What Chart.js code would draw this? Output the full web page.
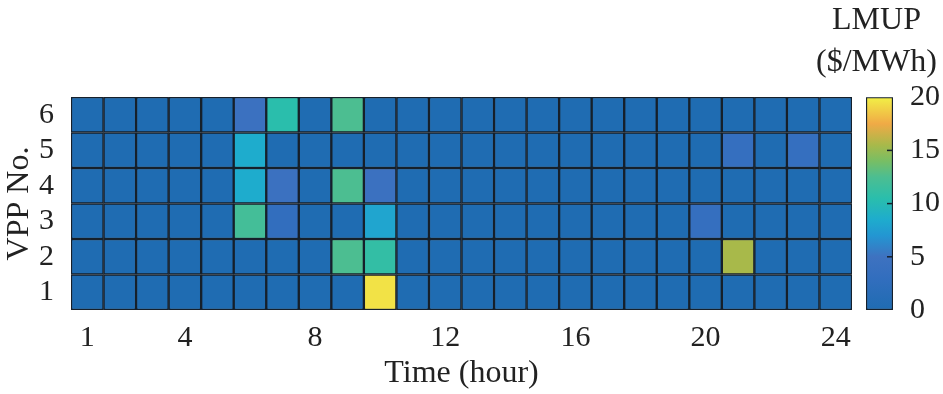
<!DOCTYPE html>
<html>
<head>
<meta charset="utf-8">
<script src="https://cdn.jsdelivr.net/npm/chart.js@4.4.1/dist/chart.umd.min.js"></script>
<style>
  body { margin: 0; background: #fff; }
  #main { position: absolute; left: 0; top: 0; }
  #barra { position: absolute; left: 810px; top: 0; }
</style>
</head>
<body>
<canvas id="main" width="860" height="394"></canvas>
<canvas id="barra" width="133" height="394"></canvas>
<script>
const horas = ['1','2','3','4','5','6','7','8','9','10','11','12','13','14','15','16','17','18','19','20','21','22','23','24'];
const horasVisibles = ['1','4','8','12','16','20','24'];
const vpps = [1, 2, 3, 4, 5, 6];

// LMUP ($/MWh) por VPP, hora 1..24
const lmupVpp1 = [0,0,0,0,0,0,0,0,0,19.5,0,0,0,0,0,0,0,0,0,0,0,0,0,0];
const lmupVpp2 = [0,0,0,0,0,0,0,0,12.5,11,0,0,0,0,0,0,0,0,0,0,15.5,0,0,0];
const lmupVpp3 = [0,0,0,0,0,12,3,0,0,8,0,0,0,0,0,0,0,0,0,3.5,0,0,0,0];
const lmupVpp4 = [0,0,0,0,0,8.5,4.5,0,12.5,4.5,0,0,0,0,0,0,0,0,0,0,0,0,0,0];
const lmupVpp5 = [0,0,0,0,0,8.5,0,0,0,0,0,0,0,0,0,0,0,0,0,0,3.5,0,3.5,0];
const lmupVpp6 = [0,0,0,0,0,4.5,10.5,0,12.5,0,0,0,0,0,0,0,0,0,0,0,0,0,0,0];
const filas = [lmupVpp1, lmupVpp2, lmupVpp3, lmupVpp4, lmupVpp5, lmupVpp6];

const escalaMin = 0;
const escalaMax = 20;
const escalaTicks = [0, 5, 10, 15, 20];

// mapa de colores tipo parula (recortado)
const paradas = [
    [0, [31,108,178]],
    [3, [50,110,190]],
    [5, [62,114,192]],
    [7, [35,150,210]],
    [8.5, [30,172,205]],
    [10.5, [42,190,172]],
    [12.5, [76,190,145]],
    [14, [120,190,100]],
    [15.5, [168,185,74]],
    [17.5, [240,170,70]],
    [20, [242,240,70]]
];

function colorDe(v) {
    if (v <= paradas[0][0]) return rgb(paradas[0][1]);
    for (let i = 1; i < paradas.length; i++) {
        if (v <= paradas[i][0]) {
            const [a, ca] = paradas[i - 1];
            const [b, cb] = paradas[i];
            const t = (v - a) / (b - a);
            return rgb(ca.map((c, k) => c + (cb[k] - c) * t));
        }
    }
    return rgb(paradas[paradas.length - 1][1]);
}

function rgb(c) {
    return `rgb(${Math.round(c[0])},${Math.round(c[1])},${Math.round(c[2])})`;
}

const fuenteTicks = { family: 'Liberation Serif', size: 30 };
const fuenteTitulo = { family: 'Liberation Serif', size: 32 };
const colorTexto = '#222';
const colorBorde = '#16202b';

window.onload = function () {
    const datasets = filas.map((valores, i) => ({
        label: 'VPP ' + vpps[i],
        data: valores.map(() => [vpps[i] - 0.5, vpps[i] + 0.5]),
        backgroundColor: valores.map(v => colorDe(v)),
        borderColor: colorBorde,
        borderWidth: 1.5,
        borderSkipped: false,
        barPercentage: 1,
        categoryPercentage: 1
    }));

    new Chart(document.getElementById('main').getContext('2d'), {
        type: 'bar',
        data: { labels: horas, datasets: datasets },
        options: {
            responsive: false,
            animation: false,
            layout: { padding: { top: 97, right: 8, left: 0, bottom: 0 } },
            plugins: { legend: { display: false }, tooltip: { enabled: false } },
            scales: {
                x: {
                    stacked: true,
                    grid: { display: false },
                    border: { display: false },
                    ticks: {
                        color: colorTexto,
                        font: fuenteTicks,
                        padding: 2,
                        maxRotation: 0,
                        autoSkip: false,
                        callback: function (val) {
                            const l = this.getLabelForValue(val);
                            return horasVisibles.includes(l) ? l : '';
                        }
                    },
                    title: { display: true, text: 'Time (hour)', color: colorTexto, font: fuenteTitulo, padding: { top: 0, bottom: 1 } },
                    afterFit: s => { s.height = 84; }
                },
                y: {
                    min: 0.5,
                    max: 6.5,
                    grid: { display: false },
                    border: { display: false },
                    afterBuildTicks: s => { s.ticks = vpps.map(v => ({ value: v })); },
                    ticks: { color: colorTexto, font: fuenteTicks, padding: 9 },
                    title: { display: true, text: 'VPP No.', color: colorTexto, font: fuenteTitulo, padding: { top: 0, bottom: 0 } },
                    afterFit: s => { s.width = 71; }
                }
            }
        }
    });

    const marcas = {
        id: 'marcas',
        afterDatasetsDraw(chart) {
            const c = chart.ctx;
            const area = chart.chartArea;
            const y = chart.scales.y;
            c.save();
            c.strokeStyle = colorBorde;
            c.lineWidth = 1.5;
            escalaTicks.slice(1, -1).forEach(v => {
                const py = y.getPixelForValue(v);
                c.beginPath();
                c.moveTo(area.right - 6, py);
                c.lineTo(area.right, py);
                c.stroke();
            });
            c.restore();
        }
    };

    new Chart(document.getElementById('barra').getContext('2d'), {
        type: 'bar',
        data: {
            labels: ['LMUP'],
            datasets: [{
                data: [[escalaMin, escalaMax]],
                backgroundColor: function (ctx) {
                    const chart = ctx.chart;
                    if (!chart.chartArea) return colorDe(0);
                    const y = chart.scales.y;
                    const g = chart.ctx.createLinearGradient(0, y.getPixelForValue(escalaMin), 0, y.getPixelForValue(escalaMax));
                    paradas.forEach(p => g.addColorStop((p[0] - escalaMin) / (escalaMax - escalaMin), colorDe(p[0])));
                    return g;
                },
                borderColor: colorBorde,
                borderWidth: 1.5,
                borderSkipped: false,
                barPercentage: 1,
                categoryPercentage: 1
            }]
        },
        options: {
            responsive: false,
            animation: false,
            layout: { padding: { top: 0, left: 0, right: 0, bottom: 84 } },
            plugins: {
                legend: { display: false },
                tooltip: { enabled: false },
                title: {
                    display: true,
                    text: ['LMUP', '($/MWh)'],
                    color: colorTexto,
                    font: { family: 'Liberation Serif', size: 32, weight: 'normal', lineHeight: 1.3 },
                    padding: { top: 0, bottom: 14 }
                }
            },
            scales: {
                x: { display: false },
                izq: {
                    position: 'left',
                    grid: { display: false },
                    border: { display: false },
                    ticks: { display: false },
                    afterFit: s => { s.width = 56; }
                },
                y: {
                    position: 'right',
                    min: escalaMin,
                    max: escalaMax,
                    grid: { display: false },
                    border: { display: false },
                    afterBuildTicks: s => { s.ticks = escalaTicks.map(v => ({ value: v })); },
                    ticks: { color: colorTexto, font: fuenteTicks, padding: 9 },
                    afterFit: s => { s.width = 50; }
                }
            }
        },
        plugins: [marcas]
    });
};
</script>
</body>
</html>
